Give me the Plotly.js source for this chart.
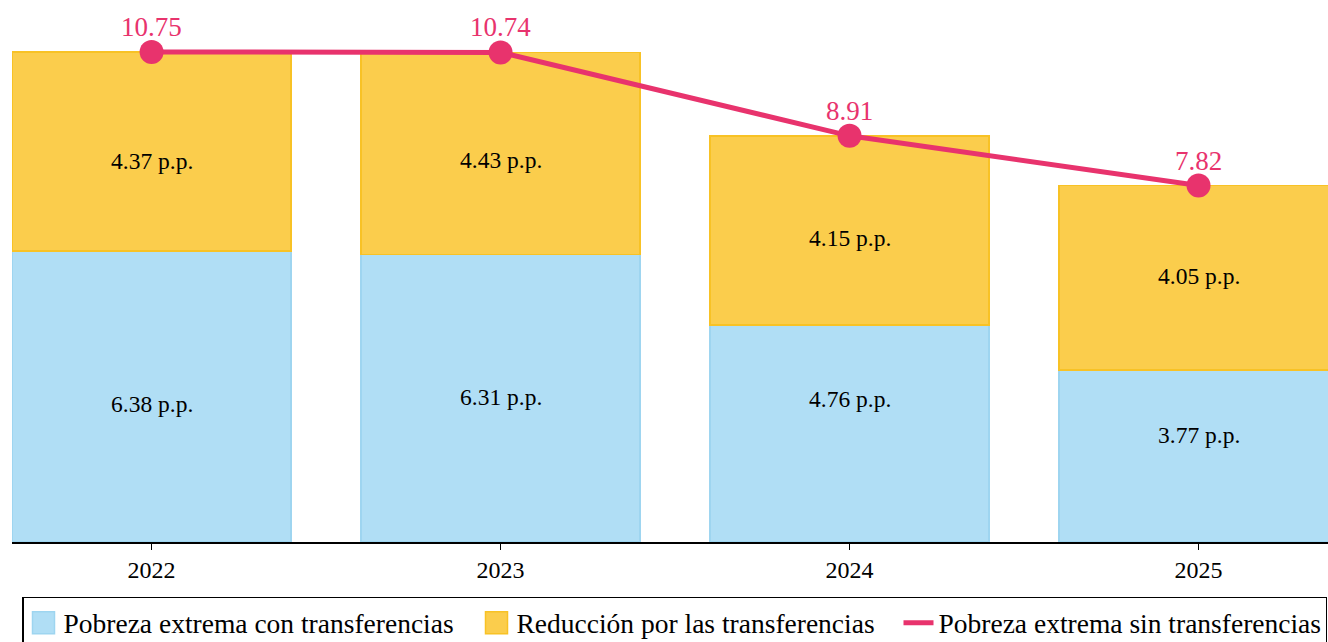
<!DOCTYPE html>
<html>
<head>
<meta charset="utf-8">
<script src="https://cdn.plot.ly/plotly-3.0.1.min.js"></script>
<style>html,body{margin:0;padding:0;background:#fff;}#chart{width:1328px;height:642px;}</style>
</head>
<body>
<div id="chart"></div>
<script>
const years = ["2022", "2023", "2024", "2025"];
const conTransferencias = [6.38, 6.31, 4.76, 3.77];
const reduccion = [4.37, 4.43, 4.15, 4.05];
const sinTransferencias = [10.75, 10.74, 8.91, 7.82];
const seriesNames = ["Pobreza extrema con transferencias", "Reducción por las transferencias", "Pobreza extrema sin transferencias"];

const font = "Liberation Serif";
const fmt = v => v.toFixed(2) + " p.p.";

// label pixel shifts (styling) relative to segment centres
const blueShift = [-7, 1, 35, 21];
const yellowShift = [-9, -7, -8, 2];

const traces = [
  {
    type: "bar", name: seriesNames[0], x: years, y: conTransferencias,
    marker: {color: "#B0DEF5", line: {color: "#9ED5F0", width: 1.5}},
    width: 0.8, hoverinfo: "none", legendwidth: 408
  },
  {
    type: "bar", name: seriesNames[1], x: years, y: reduccion,
    marker: {color: "#FBCD4C", line: {color: "#F8C225", width: 1.5}},
    width: 0.8, hoverinfo: "none", legendwidth: 377
  },
  {
    type: "scatter", mode: "lines", name: seriesNames[2], x: years, y: sinTransferencias,
    line: {color: "#E8336D", width: 5},
    cliponaxis: false, hoverinfo: "none", legendwidth: 382
  },
  {
    type: "scatter", mode: "markers", name: seriesNames[2], showlegend: false, x: years, y: sinTransferencias,
    marker: {color: "#E8336D", size: 24},
    cliponaxis: false, hoverinfo: "none"
  }
];

const annotations = [];
years.forEach((yr, i) => {
  annotations.push({
    x: i, y: conTransferencias[i] / 2, xref: "x", yref: "y",
    text: fmt(conTransferencias[i]), showarrow: false, yshift: blueShift[i],
    font: {family: font, size: 23.5, color: "#000"}
  });
  annotations.push({
    x: i, y: conTransferencias[i] + reduccion[i] / 2, xref: "x", yref: "y",
    text: fmt(reduccion[i]), showarrow: false, yshift: yellowShift[i],
    font: {family: font, size: 23.5, color: "#000"}
  });
  annotations.push({
    x: i, y: sinTransferencias[i], xref: "x", yref: "y",
    text: sinTransferencias[i].toFixed(2), showarrow: false, yanchor: "bottom", yshift: 8,
    font: {family: font, size: 27, color: "#E8336D"}
  });
});

const layout = {
  width: 1328, height: 642,
  margin: {l: 12, r: 0, t: 10, b: 100, autoexpand: false},
  paper_bgcolor: "#fff", plot_bgcolor: "#fff",
  barmode: "stack",
  showlegend: true,
  font: {family: font, color: "#000"},
  annotations: annotations,
  xaxis: {
    type: "category", range: [-0.4, 3.371],
    showline: true, linecolor: "#000", linewidth: 1.5,
    ticks: "outside", ticklen: 6, tickcolor: "#000",
    tickfont: {family: font, size: 24, color: "#000"},
    showgrid: false, zeroline: false, fixedrange: true
  },
  yaxis: {
    range: [0, 11.67], visible: false, showgrid: false, zeroline: false, fixedrange: true
  },
  legend: {
    orientation: "h", x: 0.0076, xanchor: "left", y: -0.103, yanchor: "top",
    bordercolor: "#000", borderwidth: 1.5,
    font: {family: font, size: 27.5, color: "#000"},
    traceorder: "normal", itemwidth: 30
  }
};

Plotly.newPlot("chart", traces, layout, {displayModeBar: false, staticPlot: true}).then(gd => {
  // enlarge bar swatches in the legend (styling only)
  gd.querySelectorAll(".legend .legendpoints path").forEach(p => {
    const d = p.getAttribute("d") || "";
    if (d.indexOf("M6,6H-6V-6H6Z") === 0) p.setAttribute("d", "M11,11H-11V-11H11Z");
  });
});
</script>
</body>
</html>
